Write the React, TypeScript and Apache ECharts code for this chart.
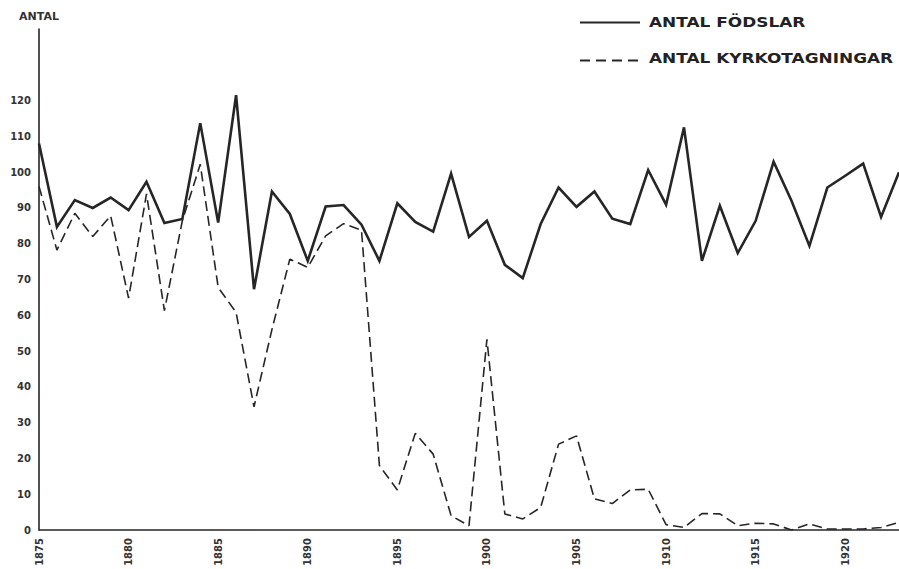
import React, { useEffect, useRef } from "react";
import * as echarts from "echarts";

const years = [
  1875, 1876, 1877, 1878, 1879, 1880, 1881, 1882, 1883, 1884,
  1885, 1886, 1887, 1888, 1889, 1890, 1891, 1892, 1893, 1894,
  1895, 1896, 1897, 1898, 1899, 1900, 1901, 1902, 1903, 1904,
  1905, 1906, 1907, 1908, 1909, 1910, 1911, 1912, 1913, 1914,
  1915, 1916, 1917, 1918, 1919, 1920, 1921, 1922, 1923,
];

const births = [
  108, 84.7, 92.2, 90, 92.9, 89.4, 97.3, 85.8, 86.9, 113.7,
  85.9, 121.5, 67.3, 94.6, 88.3, 75.2, 90.4, 90.8, 85.3, 75.2,
  91.3, 86.1, 83.4, 99.6, 81.9, 86.4, 74.1, 70.4, 85.5, 95.7,
  90.3, 94.6, 87, 85.5, 100.6, 90.9, 112.5, 75.2, 90.6, 77.4,
  86.4, 102.9, 92, 79.4, 95.7, 99, 102.4, 87.5, 100,
];

const churchings = [
  96, 78.2, 88.5, 82, 87.8, 64.8, 93.9, 61.3, 86.4, 102.2,
  67.8, 60.8, 34.4, 56, 75.7, 73.4, 82.2, 85.6, 83.8, 18,
  11.2, 27, 21.2, 4, 1.2, 53.3, 4.5, 3.1, 6.3, 24,
  26.3, 8.7, 7.4, 11.2, 11.4, 1.5, 0.7, 4.6, 4.5, 1.2,
  1.9, 1.7, 0, 1.7, 0.3, 0.3, 0.3, 0.7, 2.1,
];

const seriesNames = ["ANTAL FÖDSLAR", "ANTAL KYRKOTAGNINGAR"];
const yAxisName = "ANTAL";
const yMaxLabel = 120;

export default function App() {
  const ref = useRef<HTMLDivElement>(null);

  useEffect(() => {
    if (!ref.current) return;
    const chart = echarts.init(ref.current, undefined, { renderer: "svg" });
    const ink = "#262626";
    const font = "DejaVu Sans";

    chart.setOption({
      animation: false,
      backgroundColor: "#ffffff",
      grid: { left: 39, right: 0, top: 29, bottom: 39, containLabel: false },
      xAxis: {
        type: "value",
        min: 1875,
        max: 1923,
        interval: 5,
        axisLine: { show: true, lineStyle: { color: ink, width: 1.6 } },
        axisTick: { show: false },
        splitLine: { show: false },
        axisLabel: {
          rotate: 90,
          margin: 8,
          showMaxLabel: false,
          color: "#333",
          fontFamily: font,
          fontWeight: "bold",
          fontSize: 10,
          formatter: (v: number) => String(v),
        },
      },
      yAxis: {
        type: "value",
        min: 0,
        max: 140,
        interval: 10,
        name: yAxisName,
        nameLocation: "end",
        nameGap: 7,
        nameTextStyle: {
          color: "#333",
          fontFamily: font,
          fontWeight: "bold",
          fontSize: 11,
          align: "center",
          padding: [0, 0, 0, 0],
        },
        axisLine: { show: true, lineStyle: { color: ink, width: 1.6 } },
        axisTick: { show: false },
        splitLine: { show: false },
        axisLabel: {
          margin: 8,
          color: "#333",
          fontFamily: font,
          fontWeight: "bold",
          fontSize: 10,
          formatter: (v: number) => (v <= yMaxLabel ? String(v) : ""),
        },
      },
      series: [
        {
          name: seriesNames[0],
          type: "line",
          symbol: "none",
          data: years.map((y, i) => [y, births[i]]),
          lineStyle: { color: ink, width: 2.6, join: "miter" },
          z: 3,
        },
        {
          name: seriesNames[1],
          type: "line",
          symbol: "none",
          data: years.map((y, i) => [y, churchings[i]]),
          lineStyle: { color: ink, width: 1.6, type: [10, 5] },
          z: 2,
        },
      ],
      graphic: [
        {
          type: "line",
          shape: { x1: 580, y1: 22.5, x2: 640, y2: 22.5 },
          style: { stroke: ink, lineWidth: 2.2 },
        },
        {
          type: "text",
          x: 649,
          y: 22.5,
          scaleX: 1.21,
          style: {
            text: seriesNames[0],
            fill: "#222",
            font: `bold 14px "${font}"`,
            textVerticalAlign: "middle",
            verticalAlign: "middle",
          },
        },
        {
          type: "line",
          shape: { x1: 580, y1: 60.5, x2: 642, y2: 60.5 },
          style: { stroke: ink, lineWidth: 1.8, lineDash: [10, 6] },
        },
        {
          type: "text",
          x: 649,
          y: 58.5,
          scaleX: 1.21,
          style: {
            text: seriesNames[1],
            fill: "#222",
            font: `bold 14px "${font}"`,
            textVerticalAlign: "middle",
            verticalAlign: "middle",
          },
        },
      ],
    });

    return () => {
      chart.dispose();
    };
  }, []);

  return (
    <div
      ref={ref}
      style={{ position: "fixed", left: 0, top: 0, width: 899, height: 569 }}
    />
  );
}
